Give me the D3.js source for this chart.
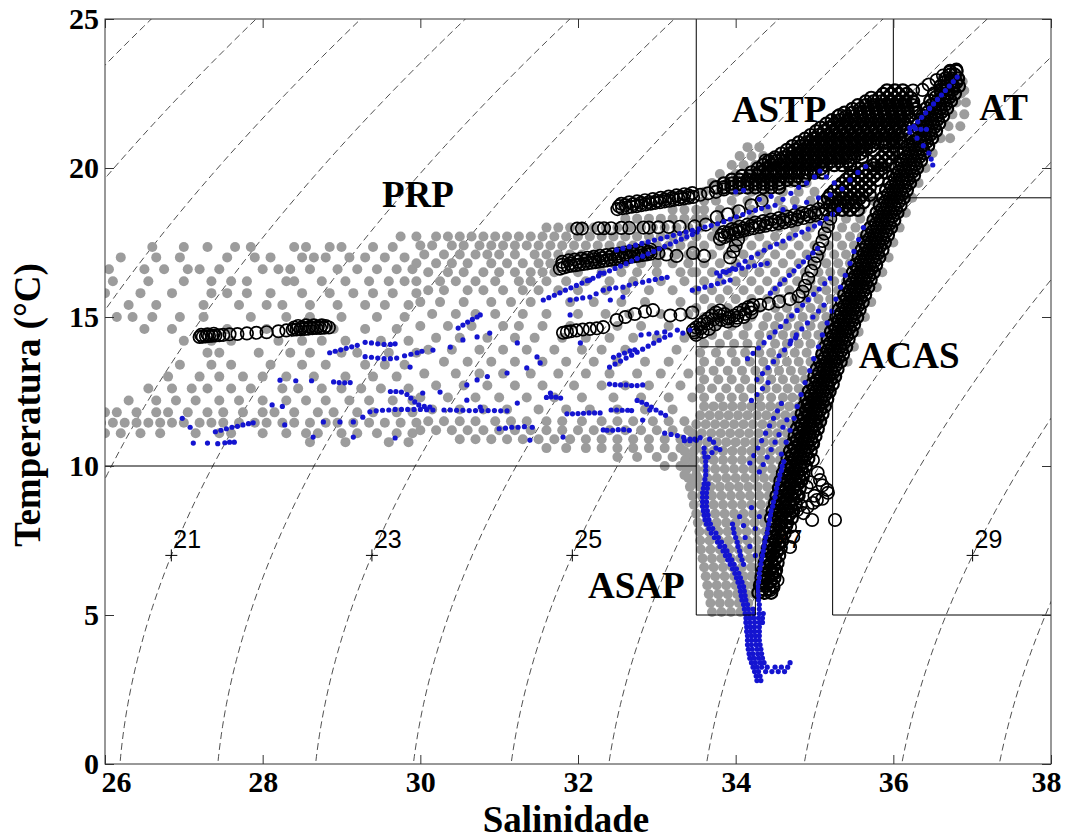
<!DOCTYPE html>
<html>
<head>
<meta charset="utf-8">
<script src="https://cdn.jsdelivr.net/npm/d3@7"></script>
<style>
  body { margin: 0; background: #fff; }
  svg text { font-family: "Liberation Serif", "Times New Roman", serif; font-weight: bold; }
</style>
</head>
<body>
<svg id="chart" width="1069" height="840"></svg>
<script>
// ---- axes / reference values ----
const salTicks = [26, 28, 30, 32, 34, 36, 38];
const tempTicks = [0, 5, 10, 15, 20, 25];
const sigmaLevels = [16, 17, 18, 19, 20, 21, 22, 23, 24, 25, 26, 27, 28, 29, 30, 31];
const sigmaLabels = [21, 23, 25, 27, 29];
const labelTemp = 7;

// water mass names and where they are written (S, T)
const massNames = ['PRP', 'ASTP', 'AT', 'ACAS', 'ASAP'];
const massSal = [29.97, 34.55, 37.4, 36.2, 32.74];
const massTemp = [18.69, 21.55, 21.62, 13.29, 5.57];
// water mass limits [S1, T1, S2, T2]
const massBounds = [
  [33.5, 25, 33.5, 5], [26, 10, 33.5, 10], [33.5, 14, 34.25, 14], [34.25, 14, 34.25, 5],
  [33.5, 5, 34.25, 5], [36, 25, 36, 19], [35.23, 19, 38, 19], [35.23, 19, 35.23, 5], [35.23, 5, 38, 5]
];

// ---- gray profiles, rows of [T, S, S, ...] ----
const grayWest = [
  [17.35, 26.6, 27.0, 27.3, 27.65, 27.85, 28.4, 28.55, 28.85, 29.0, 29.4, 29.65],
  [17.0, 26.2, 26.65, 26.95, 27.55, 27.9, 28.1, 28.5, 28.65, 28.8, 29.1, 29.3, 29.55, 29.8],
  [16.6, 26.05, 26.5, 26.75, 27.05, 27.2, 27.45, 28.0, 28.2, 28.35, 28.6, 28.95, 29.2, 29.45, 29.7, 29.9],
  [16.2, 26.1, 26.55, 27.0, 27.35, 27.6, 27.8, 28.3, 28.4, 28.75, 29.05, 29.35, 29.6, 29.8],
  [15.8, 26.0, 26.45, 26.85, 27.35, 27.55, 27.8, 28.1, 28.5, 28.85, 29.15, 29.4, 29.65, 29.95],
  [15.4, 26.3, 26.65, 27.25, 27.7, 28.05, 28.25, 28.6, 28.95, 29.3, 29.55, 29.85],
  [15.0, 26.15, 26.35, 26.6, 26.95, 27.25, 27.85, 28.3, 28.6, 29.0, 29.45, 29.8],
  [14.6, 26.5, 26.85, 27.55, 28.05, 28.45, 28.9, 29.3, 29.7],
  [14.2, 27.0, 27.35, 27.6, 28.2, 28.5, 28.75, 29.05, 29.5, 29.85],
  [13.8, 27.3, 27.45, 27.95, 28.35, 28.6, 29.0, 29.2, 29.6, 29.95],
  [13.4, 26.95, 27.35, 27.6, 28.1, 28.5, 28.8, 29.3, 29.55, 29.8],
  [13.0, 26.8, 27.2, 27.45, 27.75, 28.0, 28.3, 28.65, 29.05, 29.4, 29.7],
  [12.6, 26.55, 26.85, 27.1, 27.3, 27.6, 27.85, 28.25, 28.45, 28.75, 29.0, 29.25, 29.5, 29.85],
  [12.2, 26.3, 26.65, 26.9, 27.15, 27.45, 27.7, 28.0, 28.3, 28.55, 28.8, 29.1, 29.35, 29.65, 29.9],
  [11.8, 26.0, 26.15, 26.4, 26.65, 26.8, 27.05, 27.3, 27.5, 27.75, 28.0, 28.15, 28.4, 28.7, 28.9, 29.2, 29.4, 29.7, 29.9],
  [11.45, 25.95, 26.1, 26.25, 26.4, 26.55, 26.7, 26.85, 27.0, 27.2, 27.35, 27.5, 27.7, 27.9, 28.05, 28.25, 28.4, 28.6, 28.8, 28.95, 29.15, 29.35, 29.55, 29.75, 29.95],
  [11.1, 26.0, 26.2, 26.45, 26.7, 27.15, 27.45, 27.6, 28.0, 28.3, 28.55, 28.7, 29.0, 29.2, 29.45, 29.7, 29.9],
  [10.8, 28.6, 29.05, 29.6, 29.85]
];
const grayCentre = [
  [18.6, 33.2, 33.35, 33.5],
  [18.3, 32.6, 32.75, 32.9, 33.05, 33.2, 33.35, 33.5],
  [18.0, 31.6, 31.75, 31.9, 32.05, 32.2, 32.35, 32.5, 32.65, 32.8, 32.95, 33.1, 33.25, 33.4],
  [17.7, 29.75, 29.95, 30.2, 30.35, 30.5, 30.65, 30.8, 30.95, 31.1, 31.25, 31.4, 31.55, 31.7, 31.85, 32.0, 32.15, 32.3, 32.45, 32.6, 32.75, 32.9, 33.05, 33.2, 33.35, 33.5],
  [17.4, 30.0, 30.15, 30.4, 30.55, 30.75, 30.9, 31.05, 31.2, 31.35, 31.5, 31.65, 31.8, 31.95, 32.1, 32.25, 32.4, 32.55, 32.7, 32.85, 33.0, 33.15, 33.3, 33.45],
  [17.1, 30.05, 30.3, 30.5, 30.7, 30.85, 31.0, 31.2, 31.45, 31.6, 31.75, 31.9, 32.05, 32.2, 32.4, 32.6, 32.75, 32.9, 33.05, 33.25, 33.4],
  [16.8, 29.95, 30.2, 30.4, 30.6, 30.9, 31.1, 31.3, 31.5, 31.65, 32.1, 32.25, 32.45, 32.6, 32.8, 33.0, 33.2, 33.4],
  [16.5, 30.1, 30.35, 30.55, 30.8, 31.0, 31.2, 31.4, 31.55, 31.7, 32.0, 32.3, 32.55, 32.75, 33.0, 33.3, 33.45],
  [16.2, 29.95, 30.25, 30.45, 30.7, 30.95, 31.25, 31.4, 31.6, 31.85, 32.1, 32.4, 32.7, 33.05, 33.35],
  [15.9, 30.1, 30.3, 30.6, 30.8, 31.05, 31.3, 31.5, 31.75, 32.0, 32.35, 32.6, 32.9, 33.2],
  [15.5, 30.0, 30.25, 30.55, 30.9, 31.15, 31.4, 31.9, 32.2, 32.55, 32.85, 33.3],
  [15.1, 30.15, 30.45, 30.7, 30.95, 31.3, 31.6, 32.0, 32.35, 32.65, 33.05, 33.4],
  [14.7, 30.0, 30.35, 30.65, 31.05, 31.25, 31.55, 31.9, 32.5, 32.8, 33.15],
  [14.3, 30.2, 30.5, 30.85, 31.2, 31.45, 31.8, 32.1, 32.4, 32.7, 33.0, 33.35],
  [13.9, 30.1, 30.4, 30.75, 31.05, 31.35, 31.7, 32.05, 32.3, 32.6, 33.25],
  [13.5, 30.3, 30.6, 30.9, 31.2, 31.55, 31.85, 32.2, 32.5, 32.85, 33.15],
  [13.1, 30.05, 30.45, 30.75, 31.05, 31.4, 31.75, 32.1, 32.4, 32.75, 33.05, 33.4],
  [12.7, 30.2, 30.55, 30.85, 31.2, 31.55, 31.95, 32.3, 32.6, 32.9, 33.3],
  [12.3, 30.0, 30.35, 30.7, 31.0, 31.35, 31.7, 32.05, 32.45, 32.8, 33.15, 33.45],
  [11.9, 30.15, 30.5, 30.8, 31.1, 31.5, 31.85, 32.15, 32.5, 32.85, 33.2],
  [11.5, 30.1, 30.3, 30.5, 30.7, 30.95, 31.15, 31.35, 31.6, 31.8, 32.05, 32.3, 32.5, 32.7, 32.95, 33.15, 33.35],
  [11.2, 30.0, 30.2, 30.4, 30.6, 30.8, 31.0, 31.2, 31.4, 31.6, 31.8, 32.0, 32.2, 32.4, 32.6, 32.8, 33.0, 33.2, 33.4],
  [10.9, 30.5, 30.7, 30.9, 31.1, 31.3, 31.5, 31.7, 31.9, 32.1, 32.3, 32.5, 32.7, 32.9, 33.1, 33.3, 33.5],
  [10.6, 31.6, 31.85, 32.1, 32.3, 32.5, 32.7, 32.9, 33.1, 33.3, 33.5],
  [10.3, 32.5, 32.75, 33.0, 33.2, 33.4],
  [10.0, 33.1, 33.3, 33.45],
  [9.7, 33.35, 33.5],
  [9.4, 33.45]
];
const grayEast = [
  [5.1, 33.7, 33.82, 33.94, 34.06, 34.16],
  [5.4, 33.68, 33.8, 33.92, 34.04, 34.16],
  [5.7, 33.66, 33.78, 33.9, 34.02, 34.14, 34.24],
  [6.0, 33.64, 33.76, 33.88, 34.0, 34.12, 34.22],
  [6.3, 33.62, 33.74, 33.86, 33.98, 34.1, 34.2],
  [6.6, 33.6, 33.72, 33.84, 33.96, 34.08, 34.2, 34.3],
  [6.9, 33.58, 33.7, 33.82, 33.94, 34.06, 34.18, 34.3],
  [7.2, 33.56, 33.68, 33.8, 33.92, 34.04, 34.16, 34.28, 34.38],
  [7.5, 33.55, 33.67, 33.79, 33.91, 34.03, 34.15, 34.27, 34.4],
  [7.8, 33.54, 33.66, 33.78, 33.9, 34.02, 34.14, 34.26, 34.38, 34.45],
  [8.1, 33.52, 33.64, 33.76, 33.88, 34.0, 34.12, 34.24, 34.36, 34.48],
  [8.4, 33.5, 33.62, 33.74, 33.86, 33.98, 34.1, 34.22, 34.34, 34.46],
  [8.7, 33.47, 33.6, 33.72, 33.84, 33.96, 34.08, 34.2, 34.32, 34.44, 34.52],
  [9.0, 33.45, 33.57, 33.7, 33.82, 33.94, 34.06, 34.18, 34.3, 34.42, 34.54],
  [9.3, 33.42, 33.55, 33.68, 33.8, 33.92, 34.04, 34.16, 34.28, 34.4, 34.52],
  [9.6, 33.4, 33.52, 33.64, 33.76, 33.88, 34.0, 34.12, 34.24, 34.36, 34.48, 34.58],
  [9.9, 33.38, 33.5, 33.62, 33.74, 33.86, 33.98, 34.1, 34.22, 34.34, 34.46, 34.58],
  [10.2, 33.36, 33.48, 33.6, 33.72, 33.84, 33.96, 34.08, 34.2, 34.32, 34.44, 34.56, 34.64],
  [10.5, 33.35, 33.47, 33.6, 33.72, 33.84, 33.96, 34.08, 34.2, 34.32, 34.44, 34.56, 34.66],
  [10.8, 33.4, 33.52, 33.64, 33.76, 33.88, 34.0, 34.12, 34.24, 34.36, 34.48, 34.6, 34.7],
  [11.1, 33.45, 33.57, 33.69, 33.81, 33.93, 34.05, 34.17, 34.29, 34.41, 34.53, 34.65, 34.74],
  [11.4, 33.5, 33.62, 33.74, 33.86, 33.98, 34.1, 34.22, 34.34, 34.46, 34.58, 34.7, 34.78],
  [11.7, 33.55, 33.67, 33.79, 33.91, 34.03, 34.15, 34.27, 34.39, 34.51, 34.63, 34.75, 34.82],
  [12.0, 33.6, 33.72, 33.84, 33.96, 34.08, 34.2, 34.32, 34.44, 34.56, 34.68, 34.8, 34.86],
  [12.3, 33.6, 33.8, 33.95, 34.1, 34.3, 34.45, 34.6, 34.72, 34.84, 34.9],
  [12.6, 33.55, 33.7, 33.88, 34.05, 34.2, 34.38, 34.52, 34.66, 34.8, 34.92],
  [12.9, 33.6, 33.78, 33.95, 34.12, 34.3, 34.45, 34.6, 34.75, 34.88, 34.96],
  [13.2, 33.55, 33.72, 33.9, 34.08, 34.25, 34.4, 34.55, 34.7, 34.85, 35.0],
  [13.5, 33.6, 33.8, 34.0, 34.18, 34.35, 34.5, 34.65, 34.8, 34.95, 35.04],
  [13.8, 33.55, 33.75, 33.95, 34.12, 34.3, 34.45, 34.6, 34.75, 34.9, 35.08],
  [14.1, 33.6, 33.8, 33.98, 34.15, 34.32, 34.5, 34.65, 34.8, 34.95, 35.1],
  [14.4, 33.5, 33.7, 33.9, 34.1, 34.3, 34.45, 34.6, 34.75, 34.9, 35.05, 35.15],
  [14.7, 33.55, 33.75, 33.95, 34.15, 34.35, 34.5, 34.65, 34.8, 34.95, 35.1, 35.2],
  [15.0, 33.6, 33.8, 34.0, 34.2, 34.4, 34.55, 34.7, 34.85, 35.0, 35.15, 35.25],
  [15.3, 33.5, 33.7, 33.9, 34.1, 34.3, 34.5, 34.65, 34.8, 34.95, 35.1, 35.25, 35.32],
  [15.6, 33.6, 33.8, 34.0, 34.2, 34.4, 34.58, 34.75, 34.9, 35.05, 35.2, 35.35],
  [15.9, 33.5, 33.7, 33.9, 34.1, 34.3, 34.5, 34.68, 34.85, 35.0, 35.15, 35.3, 35.4],
  [16.2, 33.6, 33.8, 34.0, 34.2, 34.4, 34.6, 34.78, 34.95, 35.1, 35.25, 35.4, 35.46],
  [16.5, 33.5, 33.7, 33.9, 34.1, 34.3, 34.5, 34.7, 34.88, 35.05, 35.2, 35.35, 35.5],
  [16.8, 33.6, 33.8, 34.0, 34.2, 34.4, 34.6, 34.8, 34.98, 35.15, 35.3, 35.45, 35.55],
  [17.1, 33.5, 33.7, 33.9, 34.1, 34.3, 34.5, 34.7, 34.9, 35.08, 35.25, 35.4, 35.55],
  [17.4, 33.6, 33.8, 34.0, 34.2, 34.4, 34.6, 34.8, 35.0, 35.18, 35.35, 35.5, 35.62],
  [17.7, 33.5, 33.7, 33.9, 34.1, 34.3, 34.5, 34.7, 34.9, 35.1, 35.28, 35.45, 35.6, 35.68],
  [18.0, 33.55, 33.75, 33.95, 34.15, 34.35, 34.55, 34.75, 34.95, 35.15, 35.35, 35.52, 35.68],
  [18.3, 33.6, 33.8, 34.0, 34.2, 34.4, 34.6, 34.8, 35.0, 35.2, 35.4, 35.58, 35.75],
  [18.6, 33.6, 33.8, 34.0, 34.2, 34.4, 34.6, 34.8, 35.0, 35.2, 35.4, 35.6, 35.8],
  [18.9, 33.6, 33.75, 33.95, 34.15, 34.35, 34.55, 34.75, 34.95, 35.15, 35.35, 35.55, 35.75],
  [19.2, 33.6, 33.8, 34.0, 34.2, 34.4, 34.6, 34.8, 35.0],
  [19.5, 33.7, 33.9, 34.1, 34.3, 34.5, 34.7, 34.9],
  [19.8, 33.8, 34.0, 34.2, 34.4, 34.6],
  [20.1, 33.95, 34.1, 34.25, 34.4],
  [20.4, 34.05, 34.2, 34.35],
  [20.7, 34.15, 34.3],
  [21.0, 36.45, 36.6, 36.72],
  [21.4, 36.4, 36.55, 36.7, 36.85],
  [21.8, 36.45, 36.6, 36.75, 36.9],
  [22.2, 36.5, 36.65, 36.8, 36.92],
  [22.6, 36.6, 36.75, 36.9],
  [23.0, 36.7, 36.85]
];
// gray strip on the salty side of the ACAS line
const grayEdge = [
  [11.5, 35.08], [12.0, 35.13], [12.5, 35.2], [13.0, 35.27], [13.5, 35.34, 35.42], [14.0, 35.4, 35.5],
  [14.5, 35.47, 35.56], [15.0, 35.55, 35.64], [15.5, 35.62, 35.72], [16.0, 35.69, 35.79],
  [16.5, 35.76, 35.86], [17.0, 35.83, 35.94], [17.5, 35.9, 36.0], [18.0, 35.98, 36.08],
  [18.5, 36.06, 36.16], [19.0, 36.14, 36.24], [19.5, 36.22, 36.32], [20.0, 36.31, 36.41],
  [20.5, 36.4, 36.5], [22.5, 36.74, 36.86], [22.9, 36.8, 36.88]
];

// ---- blue profiles ----
// lower V shaped part, rows of [T, S, ...]
const blueRows = [
  [2.8, 34.27, 34.32], [2.95, 34.26, 34.31], [3.1, 34.24, 34.29, 34.38, 34.46, 34.54, 34.62],
  [3.25, 34.22, 34.27, 34.33, 34.4, 34.5, 34.58, 34.66], [3.4, 34.2, 34.25, 34.31, 34.36, 34.69],
  [3.55, 34.18, 34.23, 34.29, 34.34], [3.7, 34.17, 34.22, 34.28, 34.33], [3.85, 34.16, 34.21, 34.27, 34.32],
  [4.0, 34.15, 34.2, 34.26, 34.31], [4.15, 34.15, 34.2, 34.25, 34.3], [4.3, 34.15, 34.2, 34.25, 34.3],
  [4.45, 34.14, 34.19, 34.24, 34.3], [4.6, 34.14, 34.19, 34.24, 34.3], [4.75, 34.13, 34.18, 34.24, 34.3, 34.34],
  [4.9, 34.13, 34.18, 34.23, 34.29, 34.34], [5.05, 34.12, 34.17, 34.23, 34.3, 34.35],
  [5.2, 34.11, 34.16, 34.22, 34.3], [5.35, 34.1, 34.15, 34.3], [5.5, 34.08, 34.13, 34.29],
  [5.65, 34.07, 34.12, 34.29], [5.8, 34.06, 34.11, 34.28], [5.95, 34.05, 34.1, 34.28],
  [6.1, 34.03, 34.08, 34.29], [6.25, 34.01, 34.06, 34.3], [6.4, 33.99, 34.04, 34.3],
  [6.55, 33.96, 34.01, 34.31], [6.7, 33.93, 33.98, 34.1, 34.32], [6.85, 33.9, 33.95, 34.08, 34.33],
  [7.0, 33.87, 33.92, 34.06, 34.34], [7.15, 33.84, 33.89, 34.05, 34.35], [7.3, 33.8, 33.86, 34.03, 34.36],
  [7.45, 33.77, 33.82, 34.02, 34.37], [7.6, 33.73, 33.78, 34.0, 34.38], [7.75, 33.69, 33.75, 33.98, 34.4],
  [7.9, 33.66, 33.71, 33.97, 34.41], [8.05, 33.63, 33.68, 33.96, 34.42], [8.2, 33.61, 33.66, 34.43],
  [8.35, 33.6, 33.65, 34.44], [8.5, 33.59, 33.64, 34.45], [8.65, 33.58, 33.63, 34.47],
  [8.8, 33.58, 33.63, 34.48], [8.95, 33.58, 33.63, 34.5], [9.1, 33.58, 33.63, 34.51],
  [9.25, 33.59, 33.64, 34.52], [9.4, 33.6, 33.65, 34.53], [9.55, 33.61, 34.55], [9.7, 33.62, 34.56],
  [9.85, 33.62, 34.58], [10.0, 33.62, 34.59], [10.15, 33.62, 34.61], [10.3, 33.61], [10.45, 33.6], [10.6, 33.6]
];
// blue along the fresh side of the ACAS line
const blueEdge = [
  [10.4, 34.58], [10.8, 34.64], [11.2, 34.69], [11.6, 34.74], [12.0, 34.78], [12.4, 34.83], [12.8, 34.88],
  [13.2, 34.94], [13.6, 34.99], [14.0, 35.05], [14.4, 35.1], [14.8, 35.16], [15.2, 35.22], [15.6, 35.27],
  [16.0, 35.33], [16.4, 35.39], [16.8, 35.45], [17.2, 35.5], [17.6, 35.56], [18.0, 35.62]
];
// single blue profiles, flat [S, T, S, T, ...]
const blueTraces = [
  [27.12, 10.77, 27.3, 10.77, 27.43, 10.75, 27.52, 10.78, 27.58, 10.8, 27.64, 10.8],
  [27.4, 11.15, 27.47, 11.2, 27.54, 11.25, 27.61, 11.3, 27.68, 11.33, 27.75, 11.38, 27.82, 11.42, 27.88, 11.45],
  [28.85, 13.8, 28.92, 13.85, 28.99, 13.9, 29.06, 13.95, 29.13, 14.0, 29.2, 14.05],
  [29.3, 14.15, 29.38, 14.13, 29.46, 14.1, 29.54, 14.08, 29.62, 14.08, 29.68, 14.1],
  [29.3, 13.67, 29.38, 13.65, 29.46, 13.62, 29.54, 13.6, 29.62, 13.6, 29.7, 13.62, 29.8, 13.7, 29.88, 13.75, 29.96, 13.8, 30.02, 13.85],
  [28.22, 12.88, 28.42, 12.86, 28.62, 12.86, 28.9, 12.82, 28.97, 12.8, 29.04, 12.79, 29.11, 12.8],
  [29.36, 11.82, 29.44, 11.85, 29.52, 11.87, 29.6, 11.88, 29.68, 11.9, 29.76, 11.9, 29.84, 11.9, 29.92, 11.9, 30.0, 11.9,
   30.08, 11.89, 30.16, 11.88, 30.3, 11.88, 30.38, 11.88, 30.46, 11.87, 30.54, 11.87, 30.62, 11.86, 30.7, 11.86,
   30.78, 11.86, 30.86, 11.86, 30.94, 11.86, 31.02, 11.85, 31.1, 11.85],
  [29.62, 12.5, 29.69, 12.5, 29.76, 12.48, 29.83, 12.4, 29.88, 12.28, 29.93, 12.15, 29.98, 12.05, 30.05, 12.0, 30.12, 11.98],
  [31.0, 11.25, 31.08, 11.27, 31.16, 11.3, 31.24, 11.3, 31.32, 11.32, 31.42, 11.3],
  [31.6, 12.3, 31.66, 12.32, 31.72, 12.31, 31.78, 12.28],
  [31.86, 11.75, 31.93, 11.75, 32.0, 11.76, 32.07, 11.77, 32.14, 11.78, 32.21, 11.78, 32.28, 11.78],
  [32.37, 11.2, 32.44, 11.2, 32.51, 11.22, 32.58, 11.22, 32.65, 11.2],
  [32.42, 11.88, 32.49, 11.88, 32.56, 11.87, 32.63, 11.87, 32.68, 11.86],
  [32.75, 12.2, 32.81, 12.14, 32.87, 12.07, 32.93, 11.98, 32.99, 11.88, 33.05, 11.78, 33.11, 11.7],
  [33.1, 11.1, 33.18, 11.06, 33.26, 11.02, 33.34, 10.96, 33.42, 10.9, 33.5, 10.86],
  [32.4, 12.75, 32.47, 12.73, 32.54, 12.72, 32.61, 12.72, 32.68, 12.7, 32.75, 12.7, 32.82, 12.72],
  [32.45, 13.65, 32.52, 13.72, 32.59, 13.79, 32.66, 13.86, 32.72, 13.9],
  [30.48, 14.63, 30.54, 14.73, 30.6, 14.83, 30.66, 14.92, 30.72, 15.0, 30.76, 15.07],
  [32.4, 13.32, 32.47, 13.42, 32.54, 13.52, 32.61, 13.62, 32.68, 13.72, 32.75, 13.82, 32.82, 13.92, 32.89, 14.02,
   32.96, 14.12, 33.03, 14.22, 33.1, 14.32, 33.17, 14.4],
  [31.56, 15.57, 31.63, 15.65, 31.7, 15.73, 31.77, 15.81, 31.84, 15.9, 31.91, 15.98, 31.98, 16.06, 32.05, 16.14,
   32.12, 16.22, 32.19, 16.3, 32.26, 16.38, 32.33, 16.47, 32.4, 16.55, 32.47, 16.63, 32.54, 16.71, 32.61, 16.79,
   32.68, 16.88, 32.75, 16.96, 32.82, 17.04, 32.89, 17.12, 32.96, 17.2, 33.03, 17.29, 33.1, 17.37, 33.17, 17.45,
   33.24, 17.53, 33.31, 17.61, 33.38, 17.69, 33.45, 17.77, 33.51, 17.85],
  [31.9, 15.57, 31.98, 15.6, 32.06, 15.64, 32.15, 15.67, 32.23, 15.78, 32.32, 15.9, 32.4, 15.95, 32.48, 15.98,
   32.57, 16.0, 32.65, 16.07, 32.73, 16.12, 32.82, 16.17, 32.9, 16.22, 32.98, 16.26, 33.06, 16.3, 33.13, 16.33],
  [32.49, 17.25, 32.57, 17.3, 32.65, 17.36, 32.73, 17.41, 32.81, 17.47, 32.89, 17.52, 32.97, 17.58, 33.05, 17.63,
   33.13, 17.69, 33.21, 17.74, 33.29, 17.8, 33.37, 17.85, 33.45, 17.91, 33.53, 17.96, 33.61, 18.02, 33.69, 18.07,
   33.77, 18.13, 33.85, 18.2, 33.93, 18.28, 34.01, 18.36, 34.09, 18.44, 34.17, 18.52, 34.25, 18.58, 34.33, 18.64,
   34.41, 18.7, 34.5, 18.75, 34.6, 18.95, 34.7, 19.15, 34.8, 19.35, 34.9, 19.5, 35.0, 19.7],
  [33.8, 16.38, 33.88, 16.5, 33.96, 16.62, 34.04, 16.75, 34.12, 16.87, 34.2, 17.0, 34.28, 17.12, 34.36, 17.24,
   34.44, 17.35, 34.52, 17.45, 34.6, 17.55, 34.68, 17.65, 34.76, 17.75, 34.84, 17.85, 34.92, 17.95, 35.0, 18.05,
   35.07, 18.15, 35.15, 18.3, 35.23, 18.45, 35.31, 18.6],
  [33.76, 16.48, 33.84, 16.52, 33.92, 16.56, 34.0, 16.6, 34.08, 16.64, 34.16, 16.68, 34.24, 16.72, 34.32, 16.76, 34.4, 16.8],
  [34.44, 15.8, 34.5, 15.95, 34.56, 16.1, 34.62, 16.25, 34.68, 16.4, 34.74, 16.55, 34.8, 16.7, 34.86, 16.85,
   34.92, 17.0, 34.98, 17.15, 35.04, 17.3],
  [34.15, 13.6, 34.22, 13.78, 34.29, 13.96, 34.36, 14.14, 34.43, 14.32, 34.5, 14.5, 34.57, 14.68, 34.64, 14.86,
   34.71, 15.04, 34.78, 15.22, 34.85, 15.4, 34.92, 15.58, 34.99, 15.76, 35.06, 15.94, 35.13, 16.12, 35.2, 16.3],
  [34.27, 12.9, 34.34, 13.1, 34.41, 13.3, 34.48, 13.5, 34.55, 13.7, 34.62, 13.9, 34.69, 14.1, 34.76, 14.3],
  [34.7, 14.2, 34.77, 14.4, 34.84, 14.6, 34.91, 14.8, 34.98, 15.0, 35.05, 15.2, 35.12, 15.4],
  [33.45, 15.9, 33.53, 15.95, 33.61, 16.0, 33.69, 16.06, 33.77, 16.12, 33.85, 16.18, 33.93, 16.24],
  [34.2, 12.2, 34.27, 12.4, 34.34, 12.6, 34.41, 12.8],
  [34.18, 10.1, 34.23, 10.35, 34.28, 10.6, 34.33, 10.85, 34.38, 11.1, 34.43, 11.35, 34.48, 11.6, 34.53, 11.85, 34.58, 12.1],
  [34.3, 9.8, 34.35, 10.05, 34.4, 10.3, 34.45, 10.55, 34.5, 10.8, 34.55, 11.05, 34.6, 11.3, 34.65, 11.55],
  [33.65, 10.3, 33.7, 10.45, 33.75, 10.6, 33.8, 10.55, 33.72, 10.8, 33.67, 10.9],
  [33.35, 10.85, 33.42, 10.85, 33.48, 10.9, 33.55, 10.95],
  [36.81, 23.05, 36.76, 22.9, 36.71, 22.75, 36.66, 22.6, 36.61, 22.45, 36.56, 22.3, 36.51, 22.15, 36.46, 22.0,
   36.41, 21.85, 36.36, 21.7, 36.31, 21.55, 36.26, 21.4],
  [36.21, 21.35, 36.28, 21.32, 36.35, 21.3, 36.42, 21.3],
  [36.21, 21.2, 36.3, 21.0, 36.38, 20.75, 36.45, 20.5, 36.48, 20.3, 36.5, 20.1],
  [35.07, 19.9, 35.15, 19.7, 35.25, 19.5, 35.35, 19.3, 35.45, 19.6, 35.55, 19.85, 35.65, 20.05]
];
// scattered blue points [S, T, ...]
const blueDots = [
  26.98, 11.6, 27.08, 11.3, 28.28, 11.38, 28.64, 10.97, 28.77, 11.48, 28.98, 11.48, 29.15, 11.48, 29.15, 10.97,
  29.27, 11.64, 29.68, 10.94, 28.12, 12.05, 28.25, 12.0, 30.03, 12.45, 30.25, 12.48, 30.59, 12.72, 30.85, 13.0,
  31.1, 13.12, 31.23, 12.11, 31.35, 13.29, 31.52, 13.46, 31.65, 12.45, 31.9, 15.07, 32.03, 14.13, 32.15, 16.24,
  32.28, 16.47, 32.41, 15.57, 32.57, 15.67, 33.26, 14.56, 33.33, 14.46, 33.42, 14.56, 30.72, 14.33, 30.88, 14.46,
  30.54, 14.23, 30.16, 13.89, 29.87, 13.32, 30.72, 12.89, 30.38, 13.99, 31.23, 14.13, 31.48, 13.66, 30.59, 12.21,
  30.76, 11.98, 31.39, 10.87, 31.81, 10.97, 32.32, 11.21, 32.82, 11.54, 32.91, 11.88,
  34.05, 8.3, 34.1, 8.0, 34.12, 7.6, 34.18, 7.3, 34.25, 7.0, 34.2, 8.6, 34.3, 8.3, 34.25, 7.9,
  34.0, 19.2, 34.1, 19.25, 34.3, 18.95, 34.45, 19.05, 34.6, 18.6, 34.75, 18.7, 34.9, 18.85, 35.05, 19.0, 35.2, 19.1,
  32.8, 14.4, 32.9, 14.43, 33.0, 14.47, 33.1, 14.5
];

// ---- black (open circle) profiles ----
// ACAS line, rows of [T, S, ...]
const blackBand = [
  [5.75, 34.29, 34.37, 34.45], [6.0, 34.31, 34.39, 34.47], [6.25, 34.33, 34.41, 34.49], [6.5, 34.35, 34.43, 34.51],
  [6.75, 34.37, 34.45, 34.53], [7.0, 34.39, 34.47, 34.55], [7.25, 34.41, 34.49, 34.57], [7.5, 34.43, 34.51, 34.59],
  [7.75, 34.46, 34.54, 34.62], [8.0, 34.48, 34.56, 34.64],
  [8.25, 34.45, 34.54, 34.63, 34.71], [8.5, 34.47, 34.56, 34.65, 34.73], [8.75, 34.5, 34.59, 34.68, 34.76],
  [9.0, 34.52, 34.61, 34.7, 34.78], [9.25, 34.55, 34.64, 34.73, 34.81], [9.5, 34.57, 34.66, 34.75, 34.83],
  [9.75, 34.6, 34.69, 34.78, 34.86], [10.0, 34.63, 34.72, 34.81, 34.89], [10.25, 34.66, 34.75, 34.84, 34.92],
  [10.5, 34.69, 34.78, 34.87, 34.95], [10.75, 34.72, 34.81, 34.9, 34.98], [11.0, 34.75, 34.84, 34.93, 35.01],
  [11.25, 34.78, 34.87, 34.96, 35.04], [11.5, 34.81, 34.9, 34.99, 35.07], [11.75, 34.84, 34.93, 35.02, 35.1],
  [12.0, 34.87, 34.96, 35.05, 35.13], [12.25, 34.9, 34.99, 35.08, 35.16], [12.5, 34.93, 35.02, 35.11, 35.19],
  [12.75, 34.97, 35.06, 35.15, 35.23], [13.0, 35.0, 35.09, 35.18, 35.26], [13.25, 35.03, 35.12, 35.21, 35.29],
  [13.5, 35.07, 35.16, 35.25, 35.33], [13.75, 35.1, 35.19, 35.28, 35.36], [14.0, 35.14, 35.23, 35.32, 35.4],
  [14.25, 35.17, 35.26, 35.35, 35.43], [14.5, 35.21, 35.3, 35.39, 35.47], [14.75, 35.24, 35.33, 35.42, 35.5],
  [15.0, 35.28, 35.37, 35.46, 35.54], [15.25, 35.31, 35.4, 35.49, 35.57], [15.5, 35.35, 35.44, 35.53, 35.61],
  [15.75, 35.38, 35.47, 35.56, 35.64], [16.0, 35.42, 35.51, 35.6, 35.68], [16.25, 35.45, 35.54, 35.63, 35.71],
  [16.5, 35.49, 35.58, 35.67, 35.75], [16.75, 35.52, 35.61, 35.7, 35.78], [17.0, 35.56, 35.65, 35.74, 35.82],
  [17.25, 35.6, 35.69, 35.78, 35.86], [17.5, 35.63, 35.72, 35.81, 35.89], [17.75, 35.67, 35.76, 35.85, 35.93],
  [18.0, 35.71, 35.8, 35.89, 35.97], [18.25, 35.75, 35.84, 35.93, 36.01], [18.5, 35.79, 35.88, 35.97, 36.05],
  [18.75, 35.83, 35.92, 36.01, 36.09], [19.0, 35.87, 35.96, 36.05, 36.13], [19.25, 35.91, 36.0, 36.09, 36.17],
  [19.5, 35.95, 36.04, 36.13, 36.21], [19.75, 36.0, 36.09, 36.18, 36.26], [20.0, 36.04, 36.13, 36.22, 36.3],
  [20.25, 36.09, 36.18, 36.27, 36.35], [20.5, 36.13, 36.22, 36.31, 36.39], [20.75, 36.18, 36.27, 36.36, 36.44],
  [21.0, 36.23, 36.32, 36.41, 36.49], [21.25, 36.28, 36.37, 36.46, 36.54], [21.5, 36.32, 36.41, 36.5, 36.58],
  [21.75, 36.37, 36.46, 36.55, 36.63], [22.0, 36.42, 36.51, 36.6, 36.68], [22.25, 36.47, 36.56, 36.65, 36.73],
  [22.5, 36.52, 36.61, 36.7, 36.78], [22.75, 36.6, 36.68, 36.76, 36.83], [23.0, 36.66, 36.74, 36.82], [23.25, 36.72, 36.8]
];
// in-between casts of the same line
const blackBandMid = [
  [5.875, 34.34, 34.42], [6.125, 34.36, 34.44], [6.375, 34.38, 34.46], [6.625, 34.4, 34.48], [6.875, 34.42, 34.5],
  [7.125, 34.44, 34.52], [7.375, 34.46, 34.54], [7.625, 34.48, 34.57], [7.875, 34.51, 34.59],
  [8.125, 34.49, 34.57, 34.65], [8.375, 34.5, 34.59, 34.68], [8.625, 34.53, 34.62, 34.7], [8.875, 34.55, 34.64, 34.73],
  [9.125, 34.58, 34.67, 34.75], [9.375, 34.6, 34.69, 34.78], [9.625, 34.63, 34.72, 34.8], [9.875, 34.66, 34.75, 34.83],
  [10.125, 34.69, 34.78, 34.86], [10.375, 34.72, 34.81, 34.89], [10.625, 34.75, 34.84, 34.92], [10.875, 34.78, 34.87, 34.95],
  [11.125, 34.81, 34.9, 34.98], [11.375, 34.84, 34.93, 35.01], [11.625, 34.87, 34.96, 35.04], [11.875, 34.9, 34.99, 35.07],
  [12.125, 34.93, 35.02, 35.1], [12.375, 34.96, 35.05, 35.13], [12.625, 35.0, 35.08, 35.17], [12.875, 35.03, 35.12, 35.2],
  [13.125, 35.06, 35.15, 35.23], [13.375, 35.1, 35.18, 35.27], [13.625, 35.13, 35.22, 35.3], [13.875, 35.17, 35.25, 35.34],
  [14.125, 35.2, 35.29, 35.37], [14.375, 35.24, 35.32, 35.41], [14.625, 35.27, 35.36, 35.44], [14.875, 35.31, 35.39, 35.48],
  [15.125, 35.34, 35.43, 35.51], [15.375, 35.38, 35.46, 35.55], [15.625, 35.41, 35.5, 35.58], [15.875, 35.45, 35.53, 35.62],
  [16.125, 35.48, 35.57, 35.65], [16.375, 35.52, 35.6, 35.69], [16.625, 35.55, 35.64, 35.72], [16.875, 35.59, 35.67, 35.76],
  [17.125, 35.63, 35.71, 35.8], [17.375, 35.66, 35.75, 35.83], [17.625, 35.7, 35.78, 35.87], [17.875, 35.74, 35.82, 35.91],
  [18.125, 35.78, 35.86, 35.95], [18.375, 35.82, 35.9, 35.99], [18.625, 35.86, 35.94, 36.03], [18.875, 35.9, 35.98, 36.07],
  [19.125, 35.94, 36.02, 36.11], [19.375, 35.98, 36.06, 36.15], [19.625, 36.02, 36.11, 36.19], [19.875, 36.07, 36.15, 36.24],
  [20.125, 36.11, 36.2, 36.28], [20.375, 36.16, 36.24, 36.33], [20.625, 36.2, 36.29, 36.37], [20.875, 36.25, 36.34, 36.42],
  [21.125, 36.3, 36.39, 36.47], [21.375, 36.35, 36.43, 36.52], [21.625, 36.39, 36.48, 36.56], [21.875, 36.44, 36.53, 36.61],
  [22.125, 36.49, 36.58, 36.66], [22.375, 36.54, 36.63, 36.71], [22.625, 36.6, 36.68, 36.75], [22.875, 36.65, 36.73, 36.8],
  [23.125, 36.72, 36.78]
];
// ASTP core, rows of [T, S, ...]
const blackCore = [
  [22.6, 35.92, 36.02, 36.12],
  [22.35, 35.72, 35.82, 35.92, 36.02, 36.12, 36.22],
  [22.1, 35.55, 35.65, 35.75, 35.85, 35.95, 36.05, 36.15, 36.25],
  [21.85, 35.38, 35.48, 35.58, 35.68, 35.78, 35.88, 35.98, 36.08, 36.18, 36.28],
  [21.6, 35.22, 35.32, 35.42, 35.52, 35.62, 35.72, 35.82, 35.92, 36.02, 36.12, 36.22],
  [21.35, 35.08, 35.18, 35.28, 35.38, 35.48, 35.58, 35.68, 35.78, 35.88, 35.98, 36.08, 36.18],
  [21.1, 34.95, 35.05, 35.15, 35.25, 35.35, 35.45, 35.55, 35.65, 35.75, 35.85, 35.95, 36.05, 36.15],
  [20.85, 34.8, 34.9, 35.0, 35.1, 35.2, 35.3, 35.4, 35.5, 35.6, 35.7, 35.8, 35.9, 36.0, 36.1],
  [20.6, 34.65, 34.75, 34.85, 34.95, 35.05, 35.15, 35.25, 35.35, 35.45, 35.55, 35.65, 35.75, 35.95, 36.05],
  [20.35, 34.5, 34.6, 34.7, 34.8, 34.9, 35.0, 35.1, 35.2, 35.3, 35.4, 35.5, 35.6, 35.85, 35.95],
  [20.1, 34.35, 34.45, 34.55, 34.65, 34.75, 34.85, 34.95, 35.05, 35.15, 35.25, 35.35, 35.45, 35.75, 35.85, 35.95],
  [19.85, 34.2, 34.3, 34.4, 34.5, 34.6, 34.7, 34.8, 34.9, 35.0, 35.1, 35.5, 35.6, 35.7, 35.8, 35.9],
  [19.6, 33.95, 34.05, 34.15, 34.25, 34.35, 34.45, 34.55, 34.65, 34.75, 34.85, 35.4, 35.5, 35.6, 35.7, 35.8],
  [19.35, 33.75, 33.85, 33.95, 34.05, 34.15, 34.25, 34.35, 34.45, 34.55, 35.3, 35.4, 35.5, 35.6, 35.7],
  [19.1, 35.2, 35.3, 35.4, 35.5, 35.6, 35.7],
  [18.85, 35.12, 35.22, 35.32, 35.42, 35.52, 35.62],
  [18.6, 35.15, 35.25, 35.35, 35.45, 35.55]
];
const blackCoreMid = [
  [22.48, 35.87, 35.97, 36.07, 36.17],
  [22.23, 35.65, 35.75, 35.85, 35.95, 36.05, 36.15, 36.25],
  [21.98, 35.48, 35.58, 35.68, 35.78, 35.88, 35.98, 36.08, 36.18, 36.28],
  [21.73, 35.3, 35.4, 35.5, 35.6, 35.7, 35.8, 35.9, 36.0, 36.1, 36.2],
  [21.48, 35.15, 35.25, 35.35, 35.45, 35.55, 35.65, 35.75, 35.85, 35.95, 36.05, 36.15],
  [21.23, 35.02, 35.12, 35.22, 35.32, 35.42, 35.52, 35.62, 35.72, 35.82, 35.92, 36.02, 36.12],
  [20.98, 34.88, 34.98, 35.08, 35.18, 35.28, 35.38, 35.48, 35.58, 35.68, 35.78, 35.88, 35.98, 36.08],
  [20.73, 34.72, 34.82, 34.92, 35.02, 35.12, 35.22, 35.32, 35.42, 35.52, 35.62, 35.72, 35.9, 36.0],
  [20.48, 34.58, 34.68, 34.78, 34.88, 34.98, 35.08, 35.18, 35.28, 35.38, 35.48, 35.58, 35.9, 36.0],
  [20.23, 34.42, 34.52, 34.62, 34.72, 34.82, 34.92, 35.02, 35.12, 35.22, 35.32, 35.42, 35.8, 35.9],
  [19.98, 34.28, 34.38, 34.48, 34.58, 34.68, 34.78, 34.88, 34.98, 35.08, 35.55, 35.65, 35.75, 35.85],
  [19.73, 34.08, 34.18, 34.28, 34.38, 34.48, 34.58, 34.68, 34.78, 34.88, 35.45, 35.55, 35.65, 35.75],
  [19.48, 33.85, 33.95, 34.05, 34.15, 34.25, 34.35, 34.45, 34.55, 35.35, 35.45, 35.55, 35.65],
  [19.23, 35.25, 35.35, 35.45, 35.55, 35.65],
  [18.98, 35.17, 35.27, 35.37, 35.47, 35.57],
  [18.73, 35.2, 35.3, 35.4, 35.5]
];
// single black profiles, flat [S, T, ...]
const blackTraces = [
  [27.2, 14.33, 27.24, 14.34, 27.28, 14.35, 27.32, 14.36, 27.36, 14.37, 27.4, 14.38, 27.45, 14.39, 27.5, 14.4,
   27.58, 14.42, 27.68, 14.43, 27.8, 14.45, 27.92, 14.47, 28.05, 14.49, 28.2, 14.52, 28.3, 14.55, 28.38, 14.57,
   28.43, 14.58, 28.48, 14.59, 28.53, 14.6, 28.58, 14.61, 28.63, 14.62, 28.68, 14.63, 28.73, 14.63, 28.78, 14.64,
   28.84, 14.65, 28.45, 14.7, 28.55, 14.72, 28.65, 14.72, 28.75, 14.72,
   27.22, 14.4, 27.3, 14.42, 27.38, 14.44, 28.4, 14.65, 28.5, 14.66, 28.6, 14.67, 28.7, 14.68, 28.8, 14.7],
  [31.77, 16.62, 31.82, 16.66, 31.87, 16.7, 31.92, 16.72, 31.97, 16.74, 32.02, 16.76, 32.07, 16.78, 32.12, 16.8,
   32.17, 16.82, 32.22, 16.84, 32.27, 16.86, 32.32, 16.88, 32.37, 16.9, 32.42, 16.92, 32.47, 16.94, 32.52, 16.96,
   32.57, 16.98, 32.62, 17.0, 32.67, 17.02, 32.72, 17.04, 32.77, 17.06, 32.82, 17.08, 32.87, 17.1, 32.92, 17.12,
   31.8, 16.85, 31.88, 16.9, 31.96, 16.93, 32.04, 16.96, 32.12, 16.99, 32.2, 17.02, 32.28, 17.05, 32.36, 17.08,
   32.44, 17.1, 32.52, 17.13, 32.6, 17.16, 32.68, 17.19, 32.76, 17.22, 32.84, 17.24, 32.92, 17.26,
   31.8, 16.75, 31.9, 16.8, 32.0, 16.86, 32.1, 16.9, 32.2, 16.94, 32.3, 16.98, 32.4, 17.01, 32.5, 17.04,
   32.6, 17.08, 32.7, 17.12, 32.8, 17.15, 32.9, 17.19,
   33.02, 17.15, 33.12, 17.1, 33.25, 17.05, 33.46, 17.15, 33.6, 17.05],
  [32.5, 18.62, 32.56, 18.65, 32.62, 18.67, 32.68, 18.7, 32.74, 18.72, 32.8, 18.75, 32.86, 18.78, 32.92, 18.8,
   32.98, 18.83, 33.04, 18.85, 33.1, 18.88, 33.16, 18.9, 33.22, 18.93, 33.28, 18.95, 33.34, 18.98, 33.4, 19.0,
   33.46, 19.03, 32.55, 18.8, 32.65, 18.85, 32.75, 18.88, 32.85, 18.92, 32.95, 18.96, 33.05, 19.0, 33.15, 19.04,
   33.25, 19.08, 33.35, 19.12, 33.45, 19.16, 33.55, 19.1, 33.65, 19.15, 33.75, 19.2, 33.85, 19.28, 33.95, 19.36, 34.05, 19.45,
   32.52, 18.72, 32.6, 18.76, 32.7, 18.79, 32.8, 18.83, 32.9, 18.86, 33.0, 18.9, 33.1, 18.95, 33.2, 19.0, 33.3, 19.03, 33.4, 19.08],
  [31.99, 17.97, 32.05, 17.97, 32.26, 17.98, 32.33, 17.98, 32.42, 17.98, 32.55, 17.99, 32.65, 17.99, 32.83, 18.0,
   32.9, 18.0, 33.02, 18.01, 33.15, 18.02, 33.29, 18.03, 33.48, 18.04, 33.62, 18.1, 33.76, 18.35, 33.9, 18.45,
   34.04, 18.55, 34.2, 18.75, 34.33, 18.9],
  [33.46, 14.56, 33.5, 14.65, 33.55, 14.75, 33.6, 14.85, 33.65, 14.95, 33.7, 15.05, 33.75, 15.15, 33.8, 15.22,
   33.86, 15.1, 33.92, 15.0, 33.98, 15.05, 34.04, 15.15, 34.1, 15.25, 34.16, 15.33, 34.22, 15.4,
   33.5, 14.4, 33.58, 14.5, 33.66, 14.6, 33.74, 14.75, 33.82, 14.9, 33.9, 14.85, 34.0, 14.88, 34.1, 15.0, 34.2, 15.15,
   33.48, 14.48, 33.56, 14.62, 33.64, 14.78, 33.72, 14.92, 33.8, 15.05, 33.9, 14.95, 34.02, 14.98, 34.12, 15.1, 34.2, 15.28,
   34.31, 15.4, 34.42, 15.45, 34.55, 15.52, 34.69, 15.6, 34.8, 15.7, 34.85, 15.85, 34.88, 16.05, 34.92, 16.3,
   34.96, 16.55, 35.0, 16.8, 35.03, 17.05, 35.06, 17.3, 35.1, 17.55, 35.13, 17.8, 35.17, 18.05, 35.2, 18.3],
  [31.81, 14.47, 31.86, 14.5, 31.91, 14.52, 31.98, 14.55, 32.06, 14.58, 32.15, 14.6, 32.24, 14.62, 32.32, 14.66,
   32.49, 14.9, 32.6, 15.0, 32.72, 15.1, 32.85, 15.18, 32.95, 15.23, 33.17, 15.05, 33.3, 15.08, 33.45, 15.15],
  [33.8, 17.62, 33.86, 17.68, 33.92, 17.74, 33.98, 17.8, 34.04, 17.86, 34.1, 17.9, 34.16, 17.94, 34.22, 17.98,
   34.3, 18.02, 34.38, 18.06, 34.46, 18.1, 34.54, 18.14, 34.62, 18.18, 34.7, 18.22, 34.78, 18.27, 34.86, 18.32,
   34.94, 18.37, 35.02, 18.42, 35.1, 18.48, 33.85, 17.85, 33.95, 17.95, 34.05, 18.03, 34.15, 18.1, 34.25, 18.17,
   34.35, 18.22, 34.45, 18.27, 34.55, 18.32, 34.65, 18.37, 34.75, 18.43, 34.85, 18.49, 34.95, 18.55, 35.05, 18.62,
   33.82, 17.75, 33.9, 17.83, 34.0, 17.92, 34.1, 17.98, 34.2, 18.06, 34.3, 18.11, 34.4, 18.16, 34.5, 18.21,
   34.6, 18.26, 34.7, 18.31, 34.8, 18.37, 34.9, 18.44, 35.0, 18.5],
  [33.93, 17.0, 33.97, 17.2, 34.0, 17.4, 34.03, 17.6, 34.38, 20.25, 34.46, 20.28, 35.32, 21.78],
  [36.25, 22.6, 36.37, 22.62, 36.45, 22.8, 36.55, 22.95, 36.63, 23.1, 36.72, 23.22, 36.8, 23.3],
  [34.91, 12.05, 34.97, 10.77, 34.98, 10.2, 35.04, 9.77, 35.07, 9.53, 35.16, 9.2, 35.17, 9.1, 35.03, 8.86,
   34.98, 8.76, 34.91, 8.62, 34.82, 8.69, 34.78, 8.52, 34.86, 8.42, 34.97, 8.19, 35.26, 8.19, 34.69, 7.95,
   34.73, 7.62, 34.69, 7.28, 34.5, 6.41, 34.53, 6.17, 34.48, 5.94, 34.44, 5.84, 34.9, 9.3, 35.0, 9.0, 35.1, 8.9,
   34.85, 9.6, 34.95, 9.45, 35.1, 9.35, 34.8, 9.0]
];

// ---- helpers ----
const fromRows = rows => rows.flatMap(r => r.slice(1).map(s => [s, r[0]]));
const fromPairs = a => d3.range(0, a.length - 1, 2).map(i => [a[i], a[i + 1]]);

// UNESCO 1981 density at the surface, minus 1000
function sigmaT(s, t) {
  const rw = 999.842594 + 6.793952e-2 * t - 9.095290e-3 * t * t + 1.001685e-4 * t ** 3
    - 1.120083e-6 * t ** 4 + 6.536332e-9 * t ** 5;
  const a = 8.24493e-1 - 4.0899e-3 * t + 7.6438e-5 * t * t - 8.2467e-7 * t ** 3 + 5.3875e-9 * t ** 4;
  const b = -5.72466e-3 + 1.0227e-4 * t - 1.6546e-6 * t * t;
  return rw + a * s + b * Math.pow(s, 1.5) + 4.8314e-4 * s * s - 1000;
}
function salinityAt(sig, t) {
  let lo = 0, hi = 50;
  for (let i = 0; i < 40; i++) {
    const m = (lo + hi) / 2;
    if (sigmaT(m, t) < sig) lo = m; else hi = m;
  }
  return (lo + hi) / 2;
}

// ---- layout ----
const svg = d3.select('#chart');
const x = d3.scaleLinear().domain([26, 38]).range([105, 1051]);
const y = d3.scaleLinear().domain([0, 25]).range([764, 19]);

svg.append('clipPath').attr('id', 'plotClip')
  .append('rect').attr('x', 105).attr('y', 19).attr('width', 946).attr('height', 745);

const plot = svg.append('g').attr('clip-path', 'url(#plotClip)');

// isopycnals
const line = d3.line().x(d => x(d[0])).y(d => y(d[1]));
const tSteps = d3.range(-1, 26.01, 0.25);
plot.append('g').selectAll('path')
  .data(sigmaLevels)
  .join('path')
  .attr('d', lv => line(tSteps.map(t => [salinityAt(lv, t), t])))
  .attr('fill', 'none')
  .attr('stroke', '#222')
  .attr('stroke-width', 0.8)
  .attr('stroke-dasharray', '7,4');

const lab = plot.append('g').selectAll('g')
  .data(sigmaLabels)
  .join('g')
  .attr('transform', d => `translate(${x(salinityAt(d, labelTemp))},${y(labelTemp)})`);
lab.append('path').attr('d', 'M-6,0H6M0,-6V6').attr('stroke', '#000').attr('stroke-width', 1);
lab.append('text')
  .attr('x', 2).attr('y', -7)
  .style('font-family', '"Liberation Sans", Arial, sans-serif')
  .style('font-weight', 'normal')
  .style('font-size', '25px')
  .text(d => d);

// gray
const gray = fromRows(grayWest).concat(fromRows(grayCentre), fromRows(grayEast), fromRows(grayEdge));
plot.append('g').selectAll('circle')
  .data(gray)
  .join('circle')
  .attr('cx', d => x(d[0]))
  .attr('cy', d => y(d[1]))
  .attr('r', 5)
  .attr('fill', '#9c9c9c');

// black open circles: dense casts, then single profiles
function drawOpen(points, width) {
  plot.append('g').selectAll('circle')
    .data(points)
    .join('circle')
    .attr('cx', d => x(d[0]))
    .attr('cy', d => y(d[1]))
    .attr('r', 6.2)
    .attr('fill', 'none')
    .attr('stroke', '#000')
    .attr('stroke-width', width);
}
drawOpen(fromRows(blackBand).concat(fromRows(blackBandMid), fromRows(blackCore), fromRows(blackCoreMid)), 2.2);
drawOpen(blackTraces.flatMap(fromPairs), 1.7);

// blue
const blue = fromRows(blueRows).concat(fromRows(blueEdge), blueTraces.flatMap(fromPairs), fromPairs(blueDots));
plot.append('g').selectAll('circle')
  .data(blue)
  .join('circle')
  .attr('cx', d => x(d[0]))
  .attr('cy', d => y(d[1]))
  .attr('r', 2.6)
  .attr('fill', '#1414d0');

// water mass limits
plot.append('g').selectAll('line')
  .data(massBounds)
  .join('line')
  .attr('x1', d => x(d[0])).attr('y1', d => y(d[1]))
  .attr('x2', d => x(d[2])).attr('y2', d => y(d[3]))
  .attr('stroke', '#000')
  .attr('stroke-width', 1);

svg.append('g').selectAll('text')
  .data(massNames)
  .join('text')
  .attr('x', (d, i) => x(massSal[i]))
  .attr('y', (d, i) => y(massTemp[i]))
  .attr('text-anchor', 'middle')
  .style('font-size', '37px')
  .text(d => d);

// axes, ticks pointing inwards on all four sides
const tick = 9;
const xAxis = svg.append('g').attr('transform', 'translate(0,764)')
  .call(d3.axisBottom(x).tickValues(salTicks).tickFormat(d3.format('d')).tickSize(-tick).tickPadding(7));
svg.append('g').attr('transform', 'translate(0,19)')
  .call(d3.axisTop(x).tickValues(salTicks).tickFormat('').tickSize(-tick));
svg.append('g').attr('transform', 'translate(105,0)')
  .call(d3.axisLeft(y).tickValues(tempTicks).tickFormat(d3.format('d')).tickSize(-tick).tickPadding(6));
svg.append('g').attr('transform', 'translate(1051,0)')
  .call(d3.axisRight(y).tickValues(tempTicks).tickFormat('').tickSize(-tick));

svg.selectAll('.domain').remove();
svg.selectAll('.tick line').attr('stroke', '#333');
svg.selectAll('.tick text')
  .attr('fill', '#000')
  .style('font-family', '"Liberation Serif", "Times New Roman", serif')
  .style('font-weight', 'bold')
  .style('font-size', '30px');
xAxis.selectAll('.tick text').filter(d => d === 26).attr('dx', 11);
xAxis.selectAll('.tick text').filter(d => d === 38).attr('dx', -5);

svg.append('rect')
  .attr('x', 105).attr('y', 19).attr('width', 946).attr('height', 745)
  .attr('fill', 'none').attr('stroke', '#333').attr('stroke-width', 1);

svg.append('text')
  .attr('x', 566).attr('y', 832)
  .attr('text-anchor', 'middle')
  .style('font-size', '37px')
  .text('Salinidade');

svg.append('text')
  .attr('transform', 'translate(40,405) rotate(-90)')
  .attr('text-anchor', 'middle')
  .style('font-size', '37px')
  .text('Temperatura (°C)');
</script>
</body>
</html>
